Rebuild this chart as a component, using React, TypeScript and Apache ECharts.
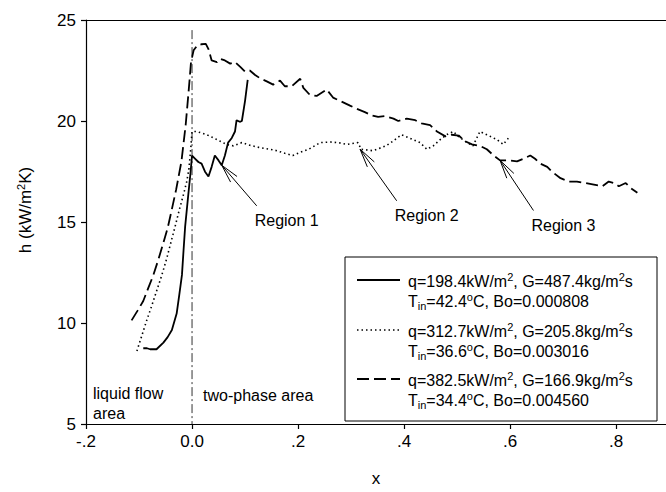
import React, { useEffect, useRef } from "react";
import * as echarts from "echarts";

const FONT = "'Liberation Sans', Arial, Helvetica, sans-serif";

// Axis ticks
const xTickValues = [-0.2, 0, 0.2, 0.4, 0.6, 0.8];
const xTickLabels = ["-.2", "0.0", ".2", ".4", ".6", ".8"];
const yTickValues = [5, 10, 15, 20, 25];
const yTickLabels = ["5", "10", "15", "20", "25"];

// Series 1: q=198.4 (solid)
const solidX = [-0.092, -0.085, -0.079, -0.067, -0.054, -0.046, -0.038, -0.029, -0.024, -0.019, -0.016, -0.013, -0.007, -0.003, 0.0, 0.006, 0.012, 0.018, 0.0245, 0.031, 0.037, 0.043, 0.05, 0.056, 0.062, 0.068, 0.075, 0.081, 0.084, 0.09, 0.094, 0.1, 0.105];
const solidY = [8.75, 8.75, 8.7, 8.7, 9.03, 9.3, 9.65, 10.47, 11.4, 12.38, 13.6, 14.77, 16.37, 17.4, 18.29, 18.13, 17.97, 17.89, 17.49, 17.25, 17.73, 18.29, 18.05, 17.81, 18.29, 18.93, 19.16, 19.48, 20.04, 19.96, 20.0, 21.0, 22.04];

// Series 2: q=312.7 (dotted)
const dottedX = [-0.104, -0.095, -0.0855, -0.076, -0.067, -0.057, -0.048, -0.04, -0.032, -0.024, -0.016, -0.01, -0.006, -0.0025, 0.0, 0.009, 0.028, 0.047, 0.065, 0.078, 0.094, 0.109, 0.128, 0.147, 0.16, 0.175, 0.19, 0.204, 0.22, 0.242, 0.261, 0.276, 0.292, 0.313, 0.319, 0.341, 0.366, 0.379, 0.395, 0.417, 0.43, 0.443, 0.455, 0.468, 0.48, 0.493, 0.502, 0.515, 0.53, 0.543, 0.556, 0.575, 0.587, 0.597];
const dottedY = [8.61, 9.35, 10.13, 10.85, 11.57, 12.37, 13.17, 13.97, 14.77, 15.6, 16.37, 17.0, 17.6, 18.6, 19.48, 19.48, 19.32, 19.08, 18.84, 18.77, 18.93, 18.8, 18.68, 18.6, 18.53, 18.4, 18.29, 18.45, 18.6, 18.93, 18.96, 18.93, 18.84, 18.93, 18.6, 18.53, 18.77, 19.0, 19.32, 19.08, 18.93, 18.6, 18.77, 19.08, 19.32, 19.48, 19.24, 19.0, 18.77, 19.48, 19.32, 19.08, 18.84, 19.16];

// Series 3: q=382.5 (dashed)
const dashedX = [-0.114, -0.103, -0.092, -0.083, -0.073, -0.064, -0.054, -0.046, -0.04, -0.03, -0.02, -0.012, -0.006, -0.002, 0.003, 0.01, 0.018, 0.026, 0.031, 0.037, 0.047, 0.053, 0.062, 0.072, 0.081, 0.091, 0.1, 0.109, 0.119, 0.128, 0.141, 0.153, 0.166, 0.175, 0.188, 0.204, 0.21, 0.222, 0.235, 0.254, 0.266, 0.279, 0.298, 0.311, 0.326, 0.339, 0.351, 0.364, 0.38, 0.389, 0.405, 0.421, 0.433, 0.449, 0.462, 0.478, 0.49, 0.503, 0.515, 0.528, 0.544, 0.556, 0.569, 0.581, 0.597, 0.613, 0.625, 0.638, 0.647, 0.657, 0.67, 0.679, 0.695, 0.711, 0.726, 0.742, 0.758, 0.774, 0.786, 0.796, 0.805, 0.818, 0.827, 0.84];
const dashedY = [10.13, 10.6, 11.09, 11.7, 12.37, 13.1, 13.97, 14.7, 15.4, 16.6, 18.0, 19.8, 21.6, 22.9, 23.5, 23.75, 23.8, 23.82, 23.56, 23.0, 22.92, 23.08, 23.0, 22.84, 22.92, 22.68, 22.44, 22.5, 22.28, 22.12, 21.96, 21.8, 22.0, 21.72, 21.72, 22.09, 21.64, 21.3, 21.24, 21.56, 21.16, 21.0, 20.76, 20.6, 20.44, 20.28, 20.2, 20.24, 20.12, 20.0, 20.12, 20.04, 19.88, 19.8, 19.48, 19.24, 19.32, 19.28, 19.0, 18.84, 18.76, 18.6, 18.29, 18.05, 18.05, 18.0, 18.13, 18.29, 18.13, 17.89, 17.73, 17.49, 17.17, 17.0, 17.0, 16.93, 16.85, 16.77, 17.0, 16.93, 16.77, 16.93, 16.69, 16.45];

// Boundary line x = 0
const boundaryX = [0, 0];
const boundaryY = [24.5, 5];

// Region arrows: tip (x, y) -> tail (x, y)
const regionLabels = ["Region 1", "Region 2", "Region 3"];
const arrowTipX = [0.056, 0.317, 0.581];
const arrowTipY = [17.81, 18.6, 18.05];
const arrowTailX = [0.122, 0.386, 0.644];
const arrowTailY = [15.8, 16.05, 15.57];

// Legend texts
const legendLine1 = [
  "q=198.4kW/m{sup|2}, G=487.4kg/m{sup|2}s",
  "q=312.7kW/m{sup|2}, G=205.8kg/m{sup|2}s",
  "q=382.5kW/m{sup|2}, G=166.9kg/m{sup|2}s",
];
const legendLine2 = [
  "T{sub|in}=42.4{sup|o}C, Bo=0.000808",
  "T{sub|in}=36.6{sup|o}C, Bo=0.003016",
  "T{sub|in}=34.4{sup|o}C, Bo=0.004560",
];

const zip = (xs: number[], ys: number[]) => xs.map((x, i) => [x, ys[i]]);

const richStyles = {
  sup: { fontSize: 11, fontFamily: FONT, fill: "#000", verticalAlign: "top", lineHeight: 13 },
  sub: { fontSize: 11, fontFamily: FONT, fill: "#000", verticalAlign: "bottom", lineHeight: 11 },
};

export default function App() {
  const ref = useRef<HTMLDivElement>(null);
  useEffect(() => {
    if (!ref.current) return;
    const chart = echarts.init(ref.current, undefined, { renderer: "svg" });
    const lineStyles: any[] = [
      { color: "#000", width: 1.8, type: "solid" },
      { color: "#000", width: 1.6, type: [1.5, 3] },
      { color: "#000", width: 1.8, type: [12, 5] },
    ];
    const legendY = [280, 330, 379];
    const legendChildren: any[] = [
      { type: "rect", shape: { x: 345, y: 257, width: 312, height: 164 }, style: { fill: "#fff", stroke: "#000", lineWidth: 1 } },
    ];
    legendY.forEach((ly, i) => {
      legendChildren.push({
        type: "line",
        shape: { x1: 357, y1: ly, x2: 400, y2: ly },
        style: { stroke: "#000", lineWidth: lineStyles[i].width, lineDash: i === 0 ? null : lineStyles[i].type },
      });
      legendChildren.push({
        type: "text",
        x: 408,
        y: ly + 1,
        style: { text: legendLine1[i], fontSize: 16, fontFamily: FONT, fill: "#000", verticalAlign: "middle", lineHeight: 20, rich: richStyles },
      });
      legendChildren.push({
        type: "text",
        x: 408,
        y: ly + 21,
        style: { text: legendLine2[i], fontSize: 16, fontFamily: FONT, fill: "#000", verticalAlign: "middle", lineHeight: 20, rich: richStyles },
      });
    });

    const labelFor = (v: number) => {
      const i = xTickValues.findIndex((t) => Math.abs(t - v) < 1e-6);
      return i >= 0 ? xTickLabels[i] : "";
    };
    const yLabelFor = (v: number) => {
      const i = yTickValues.findIndex((t) => Math.abs(t - v) < 1e-6);
      return i >= 0 ? yTickLabels[i] : "";
    };

    chart.setOption({
      animation: false,
      backgroundColor: "#fff",
      grid: { left: 86, right: 0, top: 20, bottom: 55, containLabel: false },
      xAxis: [
        {
          type: "value",
          min: -0.2,
          max: 0.894,
          interval: 0.2,
          name: "x",
          nameLocation: "middle",
          nameGap: 46,
          nameTextStyle: { fontSize: 17, fontFamily: FONT, color: "#000" },
          axisLine: { show: true, onZero: false, lineStyle: { color: "#000", width: 1.2 } },
          axisTick: { show: true, inside: false, length: 5, lineStyle: { color: "#000", width: 1.2 } },
          axisLabel: { show: true, margin: 9, fontSize: 17, fontFamily: FONT, color: "#000", formatter: labelFor, showMaxLabel: false },
          splitLine: { show: false },
        },
        {
          type: "value",
          position: "top",
          min: -0.2,
          max: 0.894,
          axisLine: { show: true, onZero: false, lineStyle: { color: "#000", width: 1.2 } },
          axisTick: { show: false },
          axisLabel: { show: false },
          splitLine: { show: false },
        },
      ],
      yAxis: {
        type: "value",
        min: 5,
        max: 25,
        interval: 5,
        axisLine: { show: true, onZero: false, lineStyle: { color: "#000", width: 1.2 } },
        axisTick: { show: true, inside: false, length: 5, lineStyle: { color: "#000", width: 1.2 } },
        axisLabel: { margin: 10, fontSize: 17, fontFamily: FONT, color: "#000", formatter: yLabelFor },
        splitLine: { show: false },
      },
      series: [
        {
          type: "line",
          name: "boundary",
          data: zip(boundaryX, boundaryY),
          showSymbol: false,
          lineStyle: { color: "#333", width: 1, type: [9, 3, 2, 3] },
          z: 1,
        },
        {
          type: "line",
          name: "q=198.4",
          data: zip(solidX, solidY),
          showSymbol: false,
          lineStyle: lineStyles[0],
          z: 3,
        },
        {
          type: "line",
          name: "q=312.7",
          data: zip(dottedX, dottedY),
          showSymbol: false,
          lineStyle: lineStyles[1],
          z: 3,
        },
        {
          type: "line",
          name: "q=382.5",
          data: zip(dashedX, dashedY),
          showSymbol: false,
          lineStyle: lineStyles[2],
          z: 3,
        },
        {
          type: "custom",
          name: "regions",
          coordinateSystem: "cartesian2d",
          data: arrowTipX.map((x, i) => [x, arrowTipY[i], arrowTailX[i], arrowTailY[i]]),
          encode: { x: [0, 2], y: [1, 3] },
          z: 4,
          renderItem: (params: any, api: any) => {
            const tip = api.coord([api.value(0), api.value(1)]);
            const tail = api.coord([api.value(2), api.value(3)]);
            const dx = tail[0] - tip[0];
            const dy = tail[1] - tip[1];
            const len = Math.hypot(dx, dy);
            const ux = dx / len;
            const uy = dy / len;
            const bl = 19;
            const ang = (13 * Math.PI) / 180;
            const rot = (a: number) => [ux * Math.cos(a) - uy * Math.sin(a), ux * Math.sin(a) + uy * Math.cos(a)];
            const b1 = rot(ang);
            const b2 = rot(-ang);
            const st = { stroke: "#000", lineWidth: 1 };
            return {
              type: "group",
              children: [
                { type: "line", shape: { x1: tip[0], y1: tip[1], x2: tail[0], y2: tail[1] }, style: st },
                { type: "line", shape: { x1: tip[0], y1: tip[1], x2: tip[0] + b1[0] * bl, y2: tip[1] + b1[1] * bl }, style: st },
                { type: "line", shape: { x1: tip[0], y1: tip[1], x2: tip[0] + b2[0] * bl, y2: tip[1] + b2[1] * bl }, style: st },
                {
                  type: "text",
                  x: tail[0] - 2,
                  y: tail[1] + 15,
                  style: { text: regionLabels[params.dataIndex], fontSize: 16, fontFamily: FONT, fill: "#000", align: "left", verticalAlign: "middle" },
                },
              ],
            };
          },
        },
      ],
      graphic: [
        {
          type: "text",
          x: 25,
          y: 210,
          rotation: Math.PI / 2,
          style: {
            text: "h (kW/m{sup|2}K)",
            fontSize: 17,
            fontFamily: FONT,
            fill: "#000",
            align: "center",
            verticalAlign: "middle",
            lineHeight: 20,
            rich: { sup: { fontSize: 11, fontFamily: FONT, fill: "#000", verticalAlign: "top", lineHeight: 13 } },
          },
        },
        {
          type: "text",
          x: 93,
          y: 383,
          style: { text: "liquid flow\narea", fontSize: 16, fontFamily: FONT, fill: "#000", lineHeight: 20, verticalAlign: "top" },
        },
        {
          type: "text",
          x: 203,
          y: 395,
          style: { text: "two-phase area", fontSize: 16, fontFamily: FONT, fill: "#000", verticalAlign: "middle" },
        },
        { type: "group", children: legendChildren, z: 10 },
      ],
    });
    return () => chart.dispose();
  }, []);
  return <div ref={ref} style={{ position: "fixed", left: 0, top: 0, width: 666, height: 492, background: "#fff" }} />;
}
